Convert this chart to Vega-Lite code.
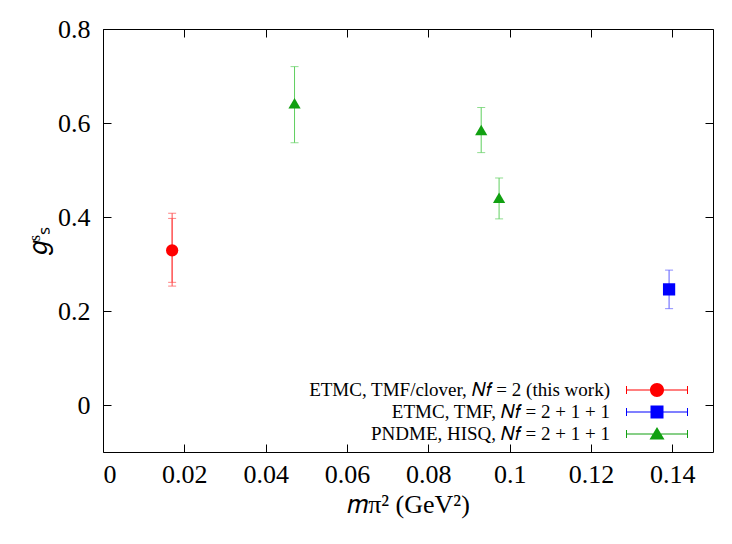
{
  "$schema": "https://vega.github.io/schema/vega-lite/v6.json",
  "width": 610,
  "height": 423,
  "autosize": "none",
  "padding": {"left": 103, "top": 29, "right": 19, "bottom": 92},
  "background": "white",
  "config": {
    "view": {"stroke": "black", "strokeWidth": 1},
    "axis": {
      "grid": false,
      "domain": false,
      "labelColor": "black",
      "titleColor": "black",
      "tickColor": "black",
      "tickSize": -8
    }
  },
  "datasets": {
    "pts": [
      {"series": "ETMC, TMF/clover, 𝑁𝑓 = 2 (this work)", "m2": 0.0170, "g": 0.329},
      {"series": "ETMC, TMF, 𝑁𝑓 = 2 + 1 + 1", "m2": 0.1392, "g": 0.246},
      {"series": "PNDME, HISQ, 𝑁𝑓 = 2 + 1 + 1", "m2": 0.0471, "g": 0.642},
      {"series": "PNDME, HISQ, 𝑁𝑓 = 2 + 1 + 1", "m2": 0.0930, "g": 0.585},
      {"series": "PNDME, HISQ, 𝑁𝑓 = 2 + 1 + 1", "m2": 0.0974, "g": 0.441}
    ],
    "err": [
      {"series": "ETMC, TMF/clover, 𝑁𝑓 = 2 (this work)", "m2": 0.0170, "lo": 0.261, "hi": 0.397},
      {"series": "ETMC, TMF/clover, 𝑁𝑓 = 2 (this work)", "m2": 0.0170, "lo": 0.253, "hi": 0.408},
      {"series": "ETMC, TMF, 𝑁𝑓 = 2 + 1 + 1", "m2": 0.1392, "lo": 0.205, "hi": 0.287},
      {"series": "PNDME, HISQ, 𝑁𝑓 = 2 + 1 + 1", "m2": 0.0471, "lo": 0.558, "hi": 0.720},
      {"series": "PNDME, HISQ, 𝑁𝑓 = 2 + 1 + 1", "m2": 0.0930, "lo": 0.537, "hi": 0.633},
      {"series": "PNDME, HISQ, 𝑁𝑓 = 2 + 1 + 1", "m2": 0.0974, "lo": 0.396, "hi": 0.483}
    ]
  },
  "layer": [
    {
      "mark": {"type": "rule", "strokeDash": [3, 3], "color": "#555555", "strokeWidth": 1},
      "encoding": {
        "x": {"datum": 0.0182, "type": "quantitative", "scale": {"domain": [0, 0.15], "nice": false, "zero": false}, "axis": null}
      }
    },
    {
      "data": {"name": "err"},
      "mark": {"type": "rule", "strokeWidth": 1},
      "encoding": {
        "x": {"field": "m2", "type": "quantitative", "scale": {"domain": [0, 0.15], "nice": false, "zero": false},
              "axis": {"orient": "top", "values": [0, 0.02, 0.04, 0.06, 0.08, 0.1, 0.12, 0.14], "labels": false, "title": null, "tickSize": -8, "tickColor": "black"}},
        "y": {"field": "lo", "type": "quantitative", "scale": {"domain": [-0.1, 0.8], "nice": false, "zero": false},
              "axis": {"orient": "right", "values": [0, 0.2, 0.4, 0.6, 0.8], "labels": false, "title": null, "tickSize": -8, "tickColor": "black"}},
        "y2": {"field": "hi"},
        "color": {"field": "series", "type": "nominal",
                  "scale": {"domain": ["ETMC, TMF/clover, 𝑁𝑓 = 2 (this work)", "ETMC, TMF, 𝑁𝑓 = 2 + 1 + 1", "PNDME, HISQ, 𝑁𝑓 = 2 + 1 + 1"],
                            "range": ["#ff4d4d", "#5c5cff", "#5fcf5f"]}, "legend": null}
      }
    },
    {
      "data": {"name": "err"},
      "transform": [{"fold": ["lo", "hi"], "as": ["end", "v"]}],
      "mark": {"type": "tick", "orient": "horizontal", "size": 8, "thickness": 1},
      "encoding": {
        "x": {"field": "m2", "type": "quantitative", "scale": {"domain": [0, 0.15], "nice": false, "zero": false}, "axis": null},
        "y": {"field": "v", "type": "quantitative", "scale": {"domain": [-0.1, 0.8], "nice": false, "zero": false}, "axis": null},
        "color": {"field": "series", "type": "nominal",
                  "scale": {"domain": ["ETMC, TMF/clover, 𝑁𝑓 = 2 (this work)", "ETMC, TMF, 𝑁𝑓 = 2 + 1 + 1", "PNDME, HISQ, 𝑁𝑓 = 2 + 1 + 1"],
                            "range": ["#ff4d4d", "#5c5cff", "#5fcf5f"]}, "legend": null}
      }
    },
    {
      "data": {"name": "pts"},
      "mark": {"type": "point", "filled": true, "opacity": 1, "size": 150},
      "encoding": {
        "x": {"field": "m2", "type": "quantitative", "scale": {"domain": [0, 0.15], "nice": false, "zero": false},
              "axis": {"orient": "bottom", "values": [0, 0.02, 0.04, 0.06, 0.08, 0.1, 0.12, 0.14], "format": "~g",
                       "labelFont": "Liberation Serif", "titleFont": "Liberation Serif", "labelFontSize": 26, "titleFontSize": 26,
                       "tickSize": -8, "tickColor": "black", "labelColor": "black", "titleColor": "black", "titleFontWeight": "normal",
                       "labelPadding": 17, "title": "𝑚π² (GeV²)", "titlePadding": 4}},
        "y": {"field": "g", "type": "quantitative", "scale": {"domain": [-0.1, 0.8], "nice": false, "zero": false},
              "axis": {"orient": "left", "values": [0, 0.2, 0.4, 0.6, 0.8], "format": ".1~f",
                       "labelFont": "Liberation Serif", "titleFont": "Liberation Serif", "labelFontSize": 26, "titleFontSize": 26,
                       "tickSize": -8, "tickColor": "black", "labelColor": "black", "titleColor": "black", "titleFontWeight": "normal",
                       "labelPadding": 21, "title": "𝑔ˢₛ", "titlePadding": 6}},
        "color": {"field": "series", "type": "nominal",
                  "scale": {"domain": ["ETMC, TMF/clover, 𝑁𝑓 = 2 (this work)", "ETMC, TMF, 𝑁𝑓 = 2 + 1 + 1", "PNDME, HISQ, 𝑁𝑓 = 2 + 1 + 1"],
                            "range": ["#ff0000", "#0000ff", "#11a011"]}, "legend": null},
        "shape": {"field": "series", "type": "nominal",
                  "scale": {"domain": ["ETMC, TMF/clover, 𝑁𝑓 = 2 (this work)", "ETMC, TMF, 𝑁𝑓 = 2 + 1 + 1", "PNDME, HISQ, 𝑁𝑓 = 2 + 1 + 1"],
                            "range": ["circle", "square", "triangle-up"]}, "legend": null}
      }
    },
    {
      "data": {"name": "pts"},
      "transform": [{"filter": "false"}],
      "mark": {"type": "point", "filled": true, "opacity": 1, "size": 400},
      "encoding": {
        "x": {"field": "m2", "type": "quantitative", "scale": {"domain": [0, 0.15], "nice": false, "zero": false}, "axis": null},
        "y": {"field": "g", "type": "quantitative", "scale": {"domain": [-0.1, 0.8], "nice": false, "zero": false}, "axis": null},
        "color": {"field": "series", "type": "nominal",
                  "scale": {"domain": ["ETMC, TMF/clover, 𝑁𝑓 = 2 (this work)", "ETMC, TMF, 𝑁𝑓 = 2 + 1 + 1", "PNDME, HISQ, 𝑁𝑓 = 2 + 1 + 1"],
                            "range": ["#ff0000", "#0000ff", "#11a011"]},
                  "legend": {"title": null, "orient": "none", "legendX": 544, "legendY": 351, "padding": 0,
                             "labelAlign": "right", "labelOffset": -57, "labelFontSize": 19, "labelFont": "Liberation Serif",
                             "labelLimit": 0, "labelColor": "black", "rowPadding": 2, "symbolSize": 400, "symbolStrokeWidth": 0}},
        "shape": {"field": "series", "type": "nominal",
                  "scale": {"domain": ["ETMC, TMF/clover, 𝑁𝑓 = 2 (this work)", "ETMC, TMF, 𝑁𝑓 = 2 + 1 + 1", "PNDME, HISQ, 𝑁𝑓 = 2 + 1 + 1"],
                            "range": [
                              "M-3.1,-0.05H3.1V0.05H-3.1Z M-3.1,-0.4H-3V0.4H-3.1Z M3,-0.4H3.1V0.4H3Z M0.7,0A0.7,0.7,0,1,1,-0.7,0A0.7,0.7,0,1,1,0.7,0Z",
                              "M-3.1,-0.05H3.1V0.05H-3.1Z M-3.1,-0.4H-3V0.4H-3.1Z M3,-0.4H3.1V0.4H3Z M-0.65,-0.65H0.65V0.65H-0.65Z",
                              "M-3.1,-0.05H3.1V0.05H-3.1Z M-3.1,-0.4H-3V0.4H-3.1Z M3,-0.4H3.1V0.4H3Z M0,-0.7L0.75,0.55H-0.75Z"
                            ]},
                  "legend": {"title": null, "orient": "none", "legendX": 544, "legendY": 351, "padding": 0,
                             "labelAlign": "right", "labelOffset": -57, "labelFontSize": 19, "labelFont": "Liberation Serif",
                             "labelLimit": 0, "labelColor": "black", "rowPadding": 2, "symbolSize": 400, "symbolStrokeWidth": 0}}
      }
    }
  ],
  "resolve": {
    "scale": {"color": "independent", "shape": "independent"},
    "axis": {"x": "independent", "y": "independent"}
  }
}
